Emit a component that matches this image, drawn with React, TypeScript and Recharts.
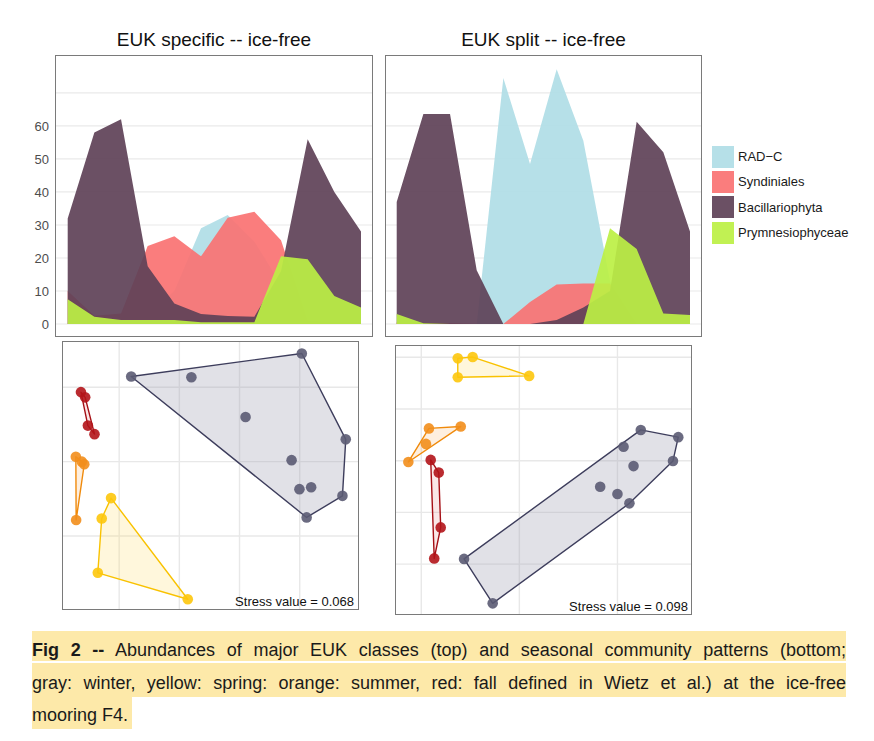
import React from 'react';
import { AreaChart, Area, XAxis, YAxis, CartesianGrid, Legend, ScatterChart, Scatter } from 'recharts';

// sampling points along the year (12 per panel)
const samples = [1, 2, 3, 4, 5, 6, 7, 8, 9, 10, 11, 12];

const seriesKeys = ['rad', 'syn', 'bac', 'pry'];
const seriesNames = ['RAD−C', 'Syndiniales', 'Bacillariophyta', 'Prymnesiophyceae'];
const seriesColors = ['#b0dde6', '#fa7272', '#5e4157', '#bcf044'];

// EUK specific -- ice-free
const specificRad = [0, 0, 0, 3, 10, 29, 33, 25, 12, 0, 0, 0];
const specificSyn = [10, 2.5, 3.2, 23.6, 26.6, 20.5, 32.2, 34, 25.4, 1, 0.5, 0.5];
const specificBac = [32, 58, 62, 17.5, 6.2, 3, 2.4, 2.2, 16, 56, 40, 28];
const specificPry = [7.5, 2.2, 1.2, 1.2, 1.2, 0.5, 0.5, 0.5, 20.5, 19.6, 8.5, 5];

// EUK split -- ice-free
const splitRad = [0, 0, 0, 0, 74.5, 48.5, 77.2, 55.5, 13, 0, 0, 0];
const splitSyn = [0.5, 0.3, 0.3, 0, 0, 6.7, 12, 12.3, 12.3, 0, 0, 0];
const splitBac = [37, 63.6, 63.6, 16.3, 0, 0, 1.2, 5, 10, 61.3, 52, 28];
const splitPry = [3, 0.2, 0, 0, 0, 0, 0, 0, 29, 22.7, 3.2, 2.7];

const abundanceTicks = [0, 10, 20, 30, 40, 50, 60];
const abundanceGrid = [0, 5, 10, 15, 20, 25, 30, 35, 40, 45, 50, 55, 60, 65, 70];

// NMDS ordinations, [x, y]
const specificWinter = [
  [-0.36, 0.229], [0.207, 0.291], [0.353, 0.06], [0.342, -0.092], [0.223, -0.15],
  [-0.16, 0.227], [0.02, 0.12], [0.173, 0.004], [0.199, -0.074], [0.238, -0.069],
];
const specificWinterHull = [0, 1, 2, 3, 4];
const specificFall = [[-0.527, 0.187], [-0.513, 0.173], [-0.504, 0.097], [-0.482, 0.074]];
const specificFallHull = [0, 1, 3, 2];
const specificSummer = [[-0.544, 0.013], [-0.524, 0], [-0.516, -0.007], [-0.543, -0.157]];
const specificSummerHull = [0, 1, 2, 3];
const specificSpring = [[-0.427, -0.098], [-0.458, -0.153], [-0.471, -0.299], [-0.172, -0.37]];
const specificSpringHull = [0, 1, 2, 3];

const splitWinter = [
  [0.619, 0.119], [0.81, 0.091], [0.783, -0.001], [0.561, -0.165], [-0.136, -0.552],
  [-0.282, -0.38], [0.531, 0.054], [0.582, -0.021], [0.412, -0.101], [0.5, -0.129],
];
const splitWinterHull = [0, 1, 2, 3, 4, 5];
const splitFall = [[-0.452, 0.003], [-0.411, -0.046], [-0.401, -0.258], [-0.434, -0.378]];
const splitFallHull = [0, 1, 2, 3];
const splitSummer = [[-0.461, 0.125], [-0.299, 0.132], [-0.476, 0.065], [-0.566, -0.005]];
const splitSummerHull = [0, 1, 3];
const splitSpring = [[-0.314, 0.396], [-0.238, 0.401], [-0.314, 0.323], [0.05, 0.328]];
const splitSpringHull = [0, 1, 3, 2];

const seasonStyle = {
  winter: { dot: '#5b5b73', stroke: '#3d3d5c', fill: '#9a9cb0', fillOpacity: 0.3 },
  fall: { dot: '#b3141a', stroke: '#a50f15', fill: '#e06060', fillOpacity: 0.15 },
  summer: { dot: '#f28e1c', stroke: '#f08a0b', fill: '#f8b060', fillOpacity: 0.2 },
  spring: { dot: '#fdc70c', stroke: '#f9c200', fill: '#ffd850', fillOpacity: 0.2 },
};

const buildRows = (rad: number[], syn: number[], bac: number[], pry: number[]) =>
  samples.map((s, i) => ({ sample: s, rad: rad[i], syn: syn[i], bac: bac[i], pry: pry[i] }));

const frameStyle = (left: number, top: number, width: number, height: number): React.CSSProperties => ({
  position: 'absolute', left, top, width, height,
  border: '1.3px solid #7a7a7a', boxSizing: 'border-box', pointerEvents: 'none',
});

// keep the legend in the drawing order of the series
const renderLegend = (props: any) => {
  const entries = [...(props.payload || [])].sort(
    (a: any, b: any) => seriesNames.indexOf(a.value) - seriesNames.indexOf(b.value),
  );
  return (
    <div>
      {entries.map((entry: any) => {
        const idx = seriesNames.indexOf(entry.value);
        return (
          <div key={entry.value} style={{ display: 'flex', alignItems: 'center', height: 25.3 }}>
            <span style={{ width: 22, height: 22, background: seriesColors[idx], opacity: 0.92 }} />
            <span style={{ marginLeft: 4, fontSize: 13, color: '#1a1a1a' }}>{entry.value}</span>
          </div>
        );
      })}
    </div>
  );
};

const AbundanceChart = ({ rows, withAxis, withLegend, width, pad }: any) => (
  <AreaChart width={width} height={282} data={rows} margin={{ top: 0, right: 0, bottom: 0, left: 0 }}>
    <CartesianGrid vertical={false} horizontalValues={abundanceGrid} stroke="#eaeaea" strokeWidth={1.2} />
    <XAxis dataKey="sample" type="number" domain={[1, 12]} hide padding={pad} />
    <YAxis
      type="number"
      domain={[-3.94, 81.5]}
      allowDataOverflow
      ticks={abundanceTicks}
      hide={!withAxis}
      width={40}
      axisLine={false}
      tickLine={false}
      tickSize={0}
      tickMargin={6}
      tick={{ fill: '#4d4d4d', fontSize: 13 }}
    />
    {seriesKeys.map((k, i) => (
      <Area
        key={k}
        type="linear"
        dataKey={k}
        name={seriesNames[i]}
        stroke="none"
        fill={seriesColors[i]}
        fillOpacity={0.92}
        baseValue={0}
        dot={false}
        activeDot={false}
        isAnimationActive={false}
      />
    ))}
    {withLegend && (
      <Legend
        layout="vertical"
        align="center"
        verticalAlign="middle"
        content={renderLegend}
        wrapperStyle={{ left: 327, top: 89, width: 160, height: 102 }}
      />
    )}
  </AreaChart>
);

const toPoints = (pairs: number[][]) => pairs.map(([x, y]) => ({ x, y }));

const NmdsChart = ({ width, height, xDomain, yDomain, xGrid, yGrid, groups }: any) => (
  <ScatterChart width={width} height={height} margin={{ top: 0, right: 0, bottom: 0, left: 0 }}>
    <CartesianGrid verticalValues={xGrid} horizontalValues={yGrid} stroke="#e8e8e8" strokeWidth={1.4} />
    <XAxis type="number" dataKey="x" domain={xDomain} allowDataOverflow hide />
    <YAxis type="number" dataKey="y" domain={yDomain} allowDataOverflow hide />
    {groups.map((g: any) => {
      const st = (seasonStyle as any)[g.season];
      const pts = toPoints(g.points);
      return (
        <Scatter
          key={g.season + '-hull'}
          data={g.hull.map((i: number) => pts[i])}
          shape={() => <g />}
          line={(p: any) => (
            <polygon
              points={p.points.map((q: any) => `${q.x},${q.y}`).join(' ')}
              fill={st.fill}
              fillOpacity={st.fillOpacity}
              stroke={st.stroke}
              strokeWidth={1.4}
              strokeLinejoin="round"
            />
          )}
          isAnimationActive={false}
        />
      );
    })}
    {groups.map((g: any) => {
      const st = (seasonStyle as any)[g.season];
      return (
        <Scatter
          key={g.season}
          data={toPoints(g.points)}
          shape={(p: any) => <circle cx={p.cx} cy={p.cy} r={5.3} fill={st.dot} fillOpacity={0.9} />}
          isAnimationActive={false}
        />
      );
    })}
  </ScatterChart>
);

const specificGroups = [
  { season: 'winter', points: specificWinter, hull: specificWinterHull },
  { season: 'fall', points: specificFall, hull: specificFallHull },
  { season: 'summer', points: specificSummer, hull: specificSummerHull },
  { season: 'spring', points: specificSpring, hull: specificSpringHull },
];
const splitGroups = [
  { season: 'winter', points: splitWinter, hull: splitWinterHull },
  { season: 'fall', points: splitFall, hull: splitFallHull },
  { season: 'summer', points: splitSummer, hull: splitSummerHull },
  { season: 'spring', points: splitSpring, hull: splitSpringHull },
];

const titleStyle = (left: number, width: number): React.CSSProperties => ({
  position: 'absolute', left, top: 29, width, textAlign: 'center', fontSize: 19, lineHeight: '22px', color: '#111',
});

const captionLine = (top: number, height: number, lh: number, width: number | string, last: boolean): React.CSSProperties => ({
  position: 'absolute', left: 32, top, height, width, lineHeight: `${lh}px`, fontSize: 18, color: '#1a1a1a',
  background: '#fde9a9', textAlign: 'justify', textAlignLast: last ? 'auto' : 'justify', whiteSpace: 'nowrap',
  paddingRight: last ? 4 : 0,
});

const App = () => {
  const specificRows = buildRows(specificRad, specificSyn, specificBac, specificPry);
  const splitRows = buildRows(splitRad, splitSyn, splitBac, splitPry);
  return (
    <div style={{ position: 'absolute', left: 0, top: 0, width: 874, height: 741, background: '#fff', fontFamily: '"Liberation Sans", Arial, sans-serif' }}>
      <div style={titleStyle(55, 318)}>EUK specific -- ice-free</div>
      <div style={titleStyle(385, 317)}>EUK split -- ice-free</div>

      <div style={{ position: 'absolute', left: 15, top: 55 }}>
        <AbundanceChart rows={specificRows} withAxis width={358} pad={{ left: 12.7, right: 12 }} />
      </div>
      <div style={frameStyle(55, 55, 318, 282)} />

      <div style={{ position: 'absolute', left: 385, top: 55 }}>
        <AbundanceChart rows={splitRows} withLegend width={317} pad={{ left: 11.7, right: 12 }} />
      </div>
      <div style={frameStyle(385, 55, 317, 282)} />

      <div style={{ position: 'absolute', left: 62, top: 341 }}>
        <NmdsChart
          width={297}
          height={269}
          xDomain={[-0.59, 0.397]}
          yDomain={[-0.399, 0.3245]}
          xGrid={[-0.4, -0.2, 0, 0.2]}
          yGrid={[-0.2, 0, 0.2]}
          groups={specificGroups}
        />
      </div>
      <div style={frameStyle(62, 341, 297, 269)} />
      <div style={{ position: 'absolute', left: 200, width: 154, top: 594, textAlign: 'right', fontSize: 13, lineHeight: '16px', color: '#111' }}>
        Stress value = 0.068
      </div>

      <div style={{ position: 'absolute', left: 395, top: 345 }}>
        <NmdsChart
          width={297}
          height={270}
          xDomain={[-0.634, 0.88]}
          yDomain={[-0.597, 0.4476]}
          xGrid={[-0.5, 0, 0.5]}
          yGrid={[-0.4, -0.2, 0, 0.2, 0.4]}
          groups={splitGroups}
        />
      </div>
      <div style={frameStyle(395, 345, 297, 270)} />
      <div style={{ position: 'absolute', left: 530, width: 158, top: 599, textAlign: 'right', fontSize: 13, lineHeight: '16px', color: '#111' }}>
        Stress value = 0.098
      </div>

      <div style={captionLine(631, 30, 38, 814, false)}>
        <b>Fig 2 --</b> Abundances of major EUK classes (top) and seasonal community patterns (bottom;
      </div>
      <div style={captionLine(663, 34, 40, 814, false)}>
        gray: winter, yellow: spring: orange: summer, red: fall defined in Wietz et al.) at the ice-free
      </div>
      <div style={captionLine(697, 32, 36, 'auto', true)}>mooring F4.</div>
    </div>
  );
};

export default App;
